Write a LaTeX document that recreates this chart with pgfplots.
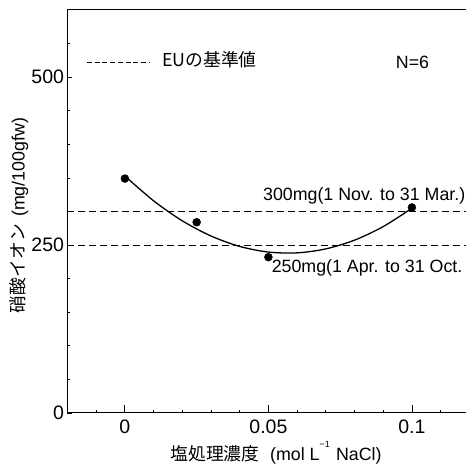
\documentclass[border=0pt]{standalone}
\usepackage{fontspec}
\setmainfont{Liberation Sans}
\newfontfamily\jp{Noto Sans CJK JP}
\usepackage{pgfplots}
\pgfplotsset{compat=1.18}
\begin{document}
\begin{tikzpicture}[font=\fontsize{17.8}{21}\selectfont]
\begin{axis}[name=ax, scale only axis, width=401.8pt, height=403pt,
  xmin=-0.02, xmax=0.12, ymin=0, ymax=600,
  xtick={0,0.05,0.1}, ytick={0,250,500},
  minor xtick={-0.01,0.01,0.02,0.03,0.04,0.06,0.07,0.08,0.09,0.11},
  minor ytick={50,100,150,200,300,350,400,450,550},
  xtick pos=left, ytick pos=left, tick align=inside,
  major tick length=5pt, minor tick length=3pt,
  xtick style={/pgfplots/major tick length=8pt},
  tick style={black, line width=0.8pt},
  axis line style={line width=1pt},
  tick label style={font=\fontsize{19.5}{22}\selectfont},
  /pgf/number format/assume math mode=true,
  scaled x ticks=false,
  xticklabel style={/pgf/number format/fixed, yshift=-3.5pt},
  clip=false,
  xlabel={{\jp 塩処理濃度}\hspace{0.6em}(mol L\raisebox{0.75em}{\fontsize{9}{10}\selectfont \char"2212 1}\hspace{0.35em}NaCl)},
  xlabel style={at={(axis description cs:0.519,-0.0993)}, anchor=center},
  ylabel={{\jp 硝酸イオン}\hspace{0.4em}(mg/100gfw)},
  ylabel style={at={(axis description cs:-0.1207,0.49)}, anchor=center},
]
\addplot[black, line width=0.8pt, dash pattern=on 7pt off 4pt] coordinates {(-0.02,300) (0.12,300)};
\addplot[black, line width=0.8pt, dash pattern=on 7pt off 4pt] coordinates {(-0.02,250) (0.12,250)};
\addplot[black, line width=1.3pt, smooth] coordinates {
(0,352.8) (0.01,315.9) (0.02,286.1) (0.03,263.5) (0.04,248.0) (0.05,239.6)
(0.06,238.4) (0.07,244.3) (0.08,257.3) (0.09,277.5) (0.1,304.8)};
\addplot[black, only marks, mark=*, mark size=4pt] coordinates {
(0,349) (0.025,284) (0.05,232) (0.1,306)};
\draw[black, line width=0.8pt, dash pattern=on 5pt off 2.7pt] (axis cs:-0.0132,522) -- (axis cs:0.00875,522);
\node[anchor=west, inner sep=0pt] at (axis cs:0.0129,525.5) {\jp EUの基準値};
\node[anchor=center, inner sep=0pt] at (axis cs:0.1002,521.5) {N=6};
\node[anchor=base west, inner sep=0pt] at (axis cs:0.0481,316.1) {300mg(1 Nov. to 31 Mar.)};
\node[anchor=base west, inner sep=0pt] at (axis cs:0.0511,209.5) {250mg(1 Apr. to 31 Oct.};
\end{axis}
\pgfresetboundingbox
\useasboundingbox ([xshift=-67.5pt,yshift=-51pt]ax.south west) rectangle ([xshift=-3.3pt,yshift=10pt]ax.north east);
\end{tikzpicture}
\end{document}
